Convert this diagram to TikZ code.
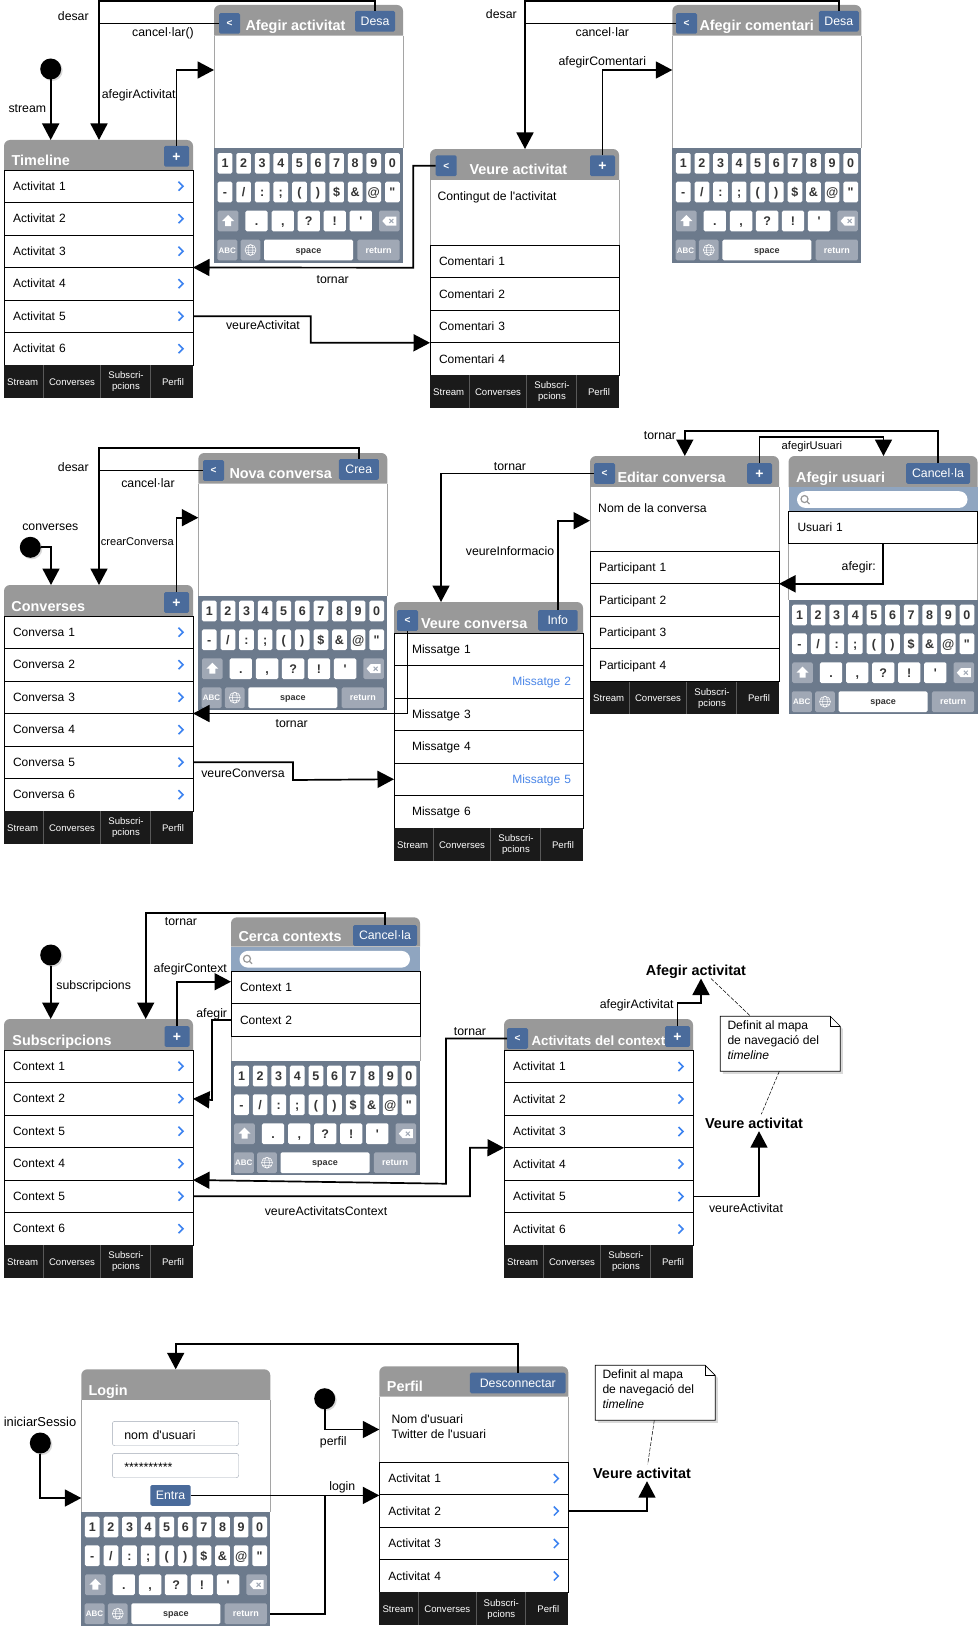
\documentclass[tikz,border=0pt]{standalone}
\usepackage{fontspec}
\setmainfont{Liberation Sans}
\usetikzlibrary{arrows.meta}
\usetikzlibrary{shadows}
\definecolor{ColHead}{RGB}{153,153,153}
\definecolor{ColBorder}{RGB}{165,165,165}
\definecolor{ColBtn}{RGB}{74,107,155}
\definecolor{ColKb}{RGB}{108,122,140}
\definecolor{ColKey}{RGB}{160,168,181}
\definecolor{ColTab}{RGB}{26,26,26}
\definecolor{ColSearch}{RGB}{143,165,192}
\definecolor{ColLink}{RGB}{59,130,240}
\definecolor{ColMsg}{RGB}{74,134,232}
\newcommand{\FontRow}{\fontsize{12pt}{13pt}\selectfont}
\newcommand{\FontTitle}{\fontsize{14.4pt}{16pt}\bfseries\selectfont}
\newcommand{\FontBtn}{\fontsize{12.3pt}{14pt}\selectfont}
\newcommand{\FontTab}{\fontsize{9.6pt}{11pt}\selectfont}
\newcommand{\MsgBlue}[1]{\makebox[171pt][r]{\textcolor{ColMsg}{#1}\hspace*{3pt}}}
\tikzstyle{HeadFill}=[fill=ColHead]
\tikzstyle{HeadBox}=[rectangle,anchor=north west,minimum width=189pt,inner sep=0pt,outer sep=0pt]
\tikzstyle{TitleText}=[anchor=west,inner sep=0pt,text=white,font=\FontTitle,text height=10pt,text depth=3pt]
\tikzstyle{BodyBox}=[rectangle,anchor=north west,fill=white,minimum width=189pt,inner sep=0pt,outer sep=0pt]
\tikzstyle{BodySide}=[draw=ColBorder,line width=.7pt]
\tikzstyle{RowBox}=[rectangle,anchor=north west,draw=black,line width=.8pt,fill=white,minimum height=32.5pt,
text width=171pt,inner xsep=9pt,inner ysep=0pt,outer sep=0pt,align=left,font=\FontRow,text height=9.5pt,text depth=1.5pt]
\tikzstyle{ChevronLine}=[draw=ColLink,line width=1.5pt]
\tikzstyle{TabBase}=[rectangle,anchor=north west,fill=ColTab,minimum width=189pt,minimum height=32.5pt,inner sep=0pt,outer sep=0pt]
\tikzstyle{TabRule}=[draw=black!65,line width=.6pt]
\tikzstyle{TabText}=[text=white,inner sep=0pt,align=center,font=\FontTab]
\tikzstyle{KbBase}=[rectangle,anchor=north west,fill=ColKb,minimum width=189pt,minimum height=114.4pt,inner sep=0pt,outer sep=0pt]
\tikzstyle{KeyWhite}=[rectangle,rounded corners=1.5pt,fill=white,minimum width=14.7pt,minimum height=20.6pt,inner sep=0pt,
text=black!80,font=\fontsize{12.5pt}{14pt}\bfseries\selectfont,text height=9pt,text depth=0pt]
\tikzstyle{KeyGrey}=[KeyWhite,fill=ColKey,text=white,font=\fontsize{9pt}{10pt}\bfseries\selectfont,text height=6.5pt]
\tikzstyle{BtnBlue}=[rectangle,rounded corners=1.5pt,fill=ColBtn,text=white,minimum height=20.7pt,inner sep=0pt,outer sep=0pt,
font=\FontBtn,text height=9pt,text depth=0pt]
\tikzstyle{BtnBack}=[BtnBlue,minimum width=21pt,font=\fontsize{10pt}{12pt}\bfseries\selectfont,text height=7pt]
\tikzstyle{BtnPlus}=[BtnBlue,minimum width=25pt,font=\fontsize{14pt}{16pt}\bfseries\selectfont,text height=10pt]
\tikzstyle{PlainText}=[anchor=west,inner sep=0pt,align=left,font=\fontsize{12.2pt}{15pt}\selectfont]
\tikzstyle{FlowLabel}=[inner sep=0pt,yshift=-1.7pt,font=\fontsize{12.3pt}{13pt}\selectfont,text height=8.5pt,text depth=2.5pt]
\tikzstyle{BoldLabel}=[inner xsep=0pt,inner ysep=2pt,outer sep=0pt,font=\FontTitle,text height=12pt,text depth=1pt]
\tikzstyle{StartDot}=[circle,fill=black,minimum size=21pt,inner sep=0pt,outer sep=0pt,
drop shadow={shadow xshift=1.5pt,shadow yshift=-1.5pt,opacity=.3}]
\tikzstyle{FlowLine}=[draw=black,line width=1.7pt]
\tikzstyle{Flow}=[FlowLine,-{Triangle[length=16.5pt,width=17pt]}]
\tikzstyle{NoteLine}=[draw=black,fill=white,line width=.7pt]
\tikzstyle{NoteBox}=[rectangle,anchor=north west,minimum width=120pt,minimum height=55pt,inner sep=0pt,outer sep=0pt]
\tikzstyle{NoteText}=[anchor=north west,inner sep=0pt,align=left,font=\fontsize{12.1pt}{15.1pt}\selectfont]
\tikzstyle{NoteLink}=[draw=black,line width=.5pt,dash pattern=on 4pt off 1.5pt]
\tikzstyle{FieldBox}=[rectangle,rounded corners=2.5pt,draw=ColKey,fill=white,anchor=north west,minimum height=24.4pt,
text width=102.4pt,inner xsep=12pt,inner ysep=0pt,outer sep=0pt,align=left,text height=12.5pt,text depth=1pt,font=\fontsize{12.4pt}{14pt}\selectfont]
% one screen is put together from these parts
\newcommand{\ScreenHead}[6]{%
  \fill[HeadFill]({#2},{#4})[rounded corners=6pt]--({#2},{#3})--({#2+189},{#3})[sharp corners]--({#2+189},{#4})--cycle;
  \node[HeadBox,minimum height={#4-#3}](#1Head)at({#2},{#3}){};
  \node[TitleText](#1Title)at({#5},{#4-8.5}){#6};
}
\newcommand{\ScreenBody}[4]{%
  \node[BodyBox,minimum height={#4}](#1Body)at({#2},{#3}){};
  \draw[BodySide](#1Body.north west)--(#1Body.south west)(#1Body.north east)--(#1Body.south east);
}
\newcommand{\ListRows}[4]{%
  \foreach \txt [count=\i] in {#4}{\node[RowBox](#1R\i)at({#2},{#3+(\i-1)*32.5}){\txt};}
}
\newcommand{\ChevronRows}[4]{%
  \ListRows{#1}{#2}{#3}{#4}
  \foreach \txt [count=\i] in {#4}{\draw[ChevronLine]({#2+174.5},{#3+(\i-1)*32.5+11.7})--++(4.5,4.5)--++(-4.5,4.5);}
}
\newcommand{\TabBar}[3]{%
  \node[TabBase](#1Tab)at({#2},{#3}){};
  \foreach \xd in {39.3,96.7,146.3}{\draw[TabRule]({#2+\xd},{#3})--({#2+\xd},{#3+32.5});}
  \foreach \xc/\txt [count=\i] in {18.7/Stream,68/Converses,122/{Subscri-\\pcions},169/Perfil}{%
    \node[TabText](#1Tb\i)at({#2+\xc},{#3+17}){\txt};}
}
\newcommand{\Keyboard}[3]{%
  \node[KbBase](#1Kb)at({#2},{#3}){};
  \foreach \c [count=\i] in {1,2,3,4,5,6,7,8,9,0}{\node[KeyWhite](#1Ka\i)at({#2+11+18.6*(\i-1)},{#3+15}){\c};}
  \foreach \c [count=\i] in {-,/,:,;,{(},{)},\$,\&,@,\textquotedbl}{\node[KeyWhite](#1Kb\i)at({#2+11+18.6*(\i-1)},{#3+43.7}){\c};}
  \foreach \xk/\c [count=\i] in {42.5/.,68.8/{,},94.8/?,120.7/!,146.8/\textquotesingle}{%
    \node[KeyWhite,minimum width=22.3pt](#1Kc\i)at({#2+\xk},{#3+72.7}){\c};}
  \node[KeyGrey,minimum width=20.6pt](#1Shift)at({#2+14},{#3+72.7}){};
  \node[KeyGrey,minimum width=20.6pt](#1Del)at({#2+175.3},{#3+72.7}){};
  \node[KeyGrey,minimum width=20pt,font=\fontsize{8pt}{9pt}\bfseries\selectfont](#1Abc)at({#2+13.3},{#3+101.7}){ABC};
  \node[KeyGrey,minimum width=19.7pt](#1Globe)at({#2+36.5},{#3+101.7}){};
  \node[KeyWhite,minimum width=89pt,font=\fontsize{9pt}{10pt}\bfseries\selectfont,text height=6.5pt](#1Space)at({#2+94.5},{#3+101.7}){space};
  \node[KeyGrey,minimum width=42.3pt](#1Ret)at({#2+164.5},{#3+101.7}){return};
  \fill[white,shift={(#1Shift.center)}](0,-6)--(6,0)--(3,0)--(3,5)--(-3,5)--(-3,0)--(-6,0)--cycle;
  \fill[white,shift={(#1Del.center)}](-7,0)--(-3,-4.5)--(7,-4.5)--(7,4.5)--(-3,4.5)--cycle;
  \draw[ColKey,line width=1pt,shift={(#1Del.center)}](0,-2)--(4,2)(4,-2)--(0,2);
  \draw[white,line width=.5pt,shift={(#1Globe.center)}](0,0)circle(5.5)(0,0)ellipse(2.5 and 5.5)(-5.5,0)--(5.5,0)(-4.8,-2.7)--(4.8,-2.7)(-4.8,2.7)--(4.8,2.7);
}
\newcommand{\SearchBar}[4]{%
  \node[HeadBox,fill=ColSearch,minimum height={#4}](#1Bar)at({#2},{#3}){};
  \node[HeadBox,fill=white,rounded corners=8.3pt,minimum width=170.5pt,minimum height=16.7pt](#1Pill)at({#2+8.5},{#3+4.2}){};
  \draw[draw=ColHead,line width=1.2pt]([xshift=7.5pt,yshift=.5pt]#1Pill.west)circle(3.5)++(2.5,2.5)--++(2.5,2.5);
}
\newcommand{\NoteShape}[3]{%
  \filldraw[NoteLine,drop shadow={shadow xshift=2.5pt,shadow yshift=-2.5pt,opacity=.3}]
    ({#2},{#3})--({#2+110},{#3})--({#2+120},{#3+10})--({#2+120},{#3+55})--({#2},{#3+55})--cycle;
  \draw[NoteLine,fill=none]({#2+110},{#3})--({#2+110},{#3+10})--({#2+120},{#3+10});
  \node[NoteBox](#1)at({#2},{#3}){};
  \node[NoteText](#1Text)at({#2+7},{#3+4.5}){Definit al mapa\\de navegació del\\\textit{timeline}};
}
\begin{document}
\begin{tikzpicture}[x=1pt,y=-1pt]
    \useasboundingbox(0,0)rectangle(978,1627);
    % Timeline
    \ScreenHead{tl}{4}{140}{170}{11.5}{Timeline}
    \ChevronRows{tl}{4}{170}{Activitat 1,Activitat 2,Activitat 3,Activitat 4,Activitat 5,Activitat 6}
    \TabBar{tl}{4}{365}
    \node[BtnPlus](tlPlus)at(176.5,156.3){+};
    \node[StartDot](tlDot)at(50.7,69){};
    % Afegir activitat
    \ScreenHead{aa}{214}{5}{35.7}{245.3}{Afegir activitat}
    \ScreenBody{aa}{214}{35.7}{112.6}
    \Keyboard{aa}{214}{148.3}
    \node[BtnBack](aaBack)at(229.5,23.4){<};
    \node[BtnBlue,minimum width=40pt](aaDesa)at(375,21.3){Desa};
    % Veure activitat
    \ScreenHead{va}{430}{149}{180}{469.3}{Veure activitat}
    \ScreenBody{va}{430}{180}{65.3}
    \node[PlainText](vaText)at(437.3,197.2){Contingut de l\textquotesingle activitat};
    \ListRows{va}{430}{245.3}{Comentari 1,Comentari 2,Comentari 3,Comentari 4}
    \TabBar{va}{430}{375}
    \node[BtnBack](vaBack)at(446.2,165.7){<};
    \node[BtnPlus](vaPlus)at(602.5,165.7){+};
    % Afegir comentari
    \ScreenHead{ac}{672.3}{5}{35.7}{699.3}{Afegir comentari}
    \ScreenBody{ac}{672.3}{35.7}{112.6}
    \Keyboard{ac}{672.3}{148.3}
    \node[BtnBack](acBack)at(686.5,23.4){<};
    \node[BtnBlue,minimum width=40pt](acDesa)at(838.8,21.3){Desa};
    % Converses
    \ScreenHead{co}{4}{585}{616}{11.3}{Converses}
    \ChevronRows{co}{4}{616}{Conversa 1,Conversa 2,Conversa 3,Conversa 4,Conversa 5,Conversa 6}
    \TabBar{co}{4}{811}
    \node[BtnPlus](coPlus)at(176.5,602.4){+};
    \node[StartDot](coDot)at(30.3,547.3){};
    % Nova conversa
    \ScreenHead{nc}{198.3}{453}{483.7}{229.3}{Nova conversa}
    \ScreenBody{nc}{198.3}{483.7}{112.3}
    \Keyboard{nc}{198.3}{596}
    \node[BtnBack](ncBack)at(213.5,470.4){<};
    \node[BtnBlue,minimum width=40pt](ncCrea)at(358.8,469.4){Crea};
    % Veure conversa
    \ScreenHead{vc}{394}{602}{633}{420.8}{Veure conversa}
    \ListRows{vc}{394}{633}{\hspace*{9pt}Missatge 1,\MsgBlue{Missatge 2},\hspace*{9pt}Missatge 3,\hspace*{9pt}Missatge 4,\MsgBlue{Missatge 5},\hspace*{9pt}Missatge 6}
    \TabBar{vc}{394}{828}
    \node[BtnBack](vcBack)at(407.5,620.4){<};
    \node[BtnBlue,minimum width=39.5pt](vcInfo)at(557.8,620.4){Info};
    % Editar conversa
    \ScreenHead{ec}{590}{456}{487}{617.3}{Editar conversa}
    \ScreenBody{ec}{590}{487}{64.3}
    \node[PlainText](ecText)at(598,507.7){Nom de la conversa};
    \ListRows{ec}{590}{551.3}{Participant 1,Participant 2,Participant 3,Participant 4}
    \TabBar{ec}{590}{681.5}
    \node[BtnBack](ecBack)at(604.5,473.4){<};
    \node[BtnPlus](ecPlus)at(759.5,473.4){+};
    % Afegir usuari
    \ScreenHead{au}{788.5}{456}{487}{796}{Afegir usuari}
    \SearchBar{au}{788.5}{487}{24.3}
    \ScreenBody{au}{788.5}{544}{56}
    \ListRows{au}{788.5}{511.3}{Usuari 1}
    \Keyboard{au}{788.5}{600}
    \node[BtnBlue,minimum width=64pt](auCancel)at(938,473.4){Cancel·la};
    % Subscripcions
    \ScreenHead{su}{4}{1019}{1050}{12.3}{Subscripcions}
    \ChevronRows{su}{4}{1050}{Context 1,Context 2,Context 5,Context 4,Context 5,Context 6}
    \TabBar{su}{4}{1245}
    \node[BtnPlus](suPlus)at(177,1036.4){+};
    \node[StartDot](suDot)at(50.7,955){};
    % Cerca contexts
    \ScreenHead{cc}{231}{917.3}{946.7}{238.3}{Cerca contexts}
    \SearchBar{cc}{231}{946.7}{24.6}
    \ScreenBody{cc}{231}{1036.3}{25}
    \ListRows{cc}{231}{971.3}{Context 1,Context 2}
    \Keyboard{cc}{230.5}{1061}
    \node[BtnBlue,minimum width=64pt](ccCancel)at(385,935.4){Cancel·la};
    % Activitats del context
    \ScreenHead{ca}{504}{1019}{1050.3}{531.3}{\fontsize{13.3pt}{16pt}\selectfont Activitats del context}
    \ChevronRows{ca}{504}{1050.3}{Activitat 1,Activitat 2,Activitat 3,Activitat 4,Activitat 5,Activitat 6}
    \TabBar{ca}{504}{1245}
    \node[BtnBack](caBack)at(517.5,1038.4){<};
    \node[BtnPlus](caPlus)at(677.5,1036.4){+};
    \node[BoldLabel](naAfegir)at(696,970){Afegir activitat};
    \node[BoldLabel](naVeure)at(754,1122.7){Veure activitat};
    \NoteShape{ntContext}{720.3}{1016.3}
    % Login
    \ScreenHead{lg}{81.3}{1369.3}{1400}{88.3}{Login}
    \ScreenBody{lg}{81.3}{1400}{112}
    \node[FieldBox](lgUser)at(112.3,1421.3){nom d\textquotesingle usuari};
    \node[FieldBox](lgPass)at(112.3,1453.3){**********};
    \Keyboard{lg}{81.3}{1512}
    \node[BtnBlue,minimum width=40.4pt](lgEntra)at(170.5,1495.4){Entra};
    \node[StartDot](lgDot)at(40.3,1443){};
    % Perfil
    \ScreenHead{pf}{379.3}{1366.3}{1396.7}{386.7}{Perfil}
    \ScreenBody{pf}{379.3}{1396.7}{65.6}
    \node[PlainText](pfText)at(391.3,1426.2){Nom d\textquotesingle usuari\\Twitter de l\textquotesingle usuari};
    \ChevronRows{pf}{379.3}{1462.3}{Activitat 1,Activitat 2,Activitat 3,Activitat 4}
    \TabBar{pf}{379.3}{1592}
    \node[BtnBlue,minimum width=95.7pt](pfDisc)at(517.8,1383){Desconnectar};
    \node[StartDot](pfDot)at(324.7,1398.7){};
    \node[BoldLabel](naPerfil)at(642,1472.7){Veure activitat};
    \NoteShape{ntPerfil}{595.3}{1365.3}
    % connectors of the first row
    \draw[Flow](tlDot.south)--(tlDot.south|-tlHead.north);
    \draw[Flow](aaDesa.north)|-(99,1)--(99,0|-tlHead.north);
    \draw[FlowLine](aaBack.west)--(99,0|-aaBack.west);
    \draw[Flow](tlPlus.north)|-(aaBody.west|-0,70);
    \draw[Flow](vaBack.west)-|(413.3,267.7)--(tlR3.south east);
    \draw[Flow](tlR5.east)-|(310.7,342.7)--(vaR3.south west);
    \draw[Flow](acDesa.north)|-(525,1)--(525,0|-vaHead.north);
    \draw[FlowLine](acBack.west)--(525,0|-acBack.west);
    \draw[Flow](vaPlus.north)|-(acBody.west|-0,70);
    % connectors of the second row
    \draw[Flow](coDot.east)-|(51,0|-coHead.north);
    \draw[Flow](ncCrea.north)|-(99,448.3)--(99,0|-coHead.north);
    \draw[FlowLine](ncBack.west)--(99,0|-ncBack.west);
    \draw[Flow](coPlus.north)|-(ncBody.west|-0,517.7);
    \draw[Flow](vcBack.south)|-(coR3.south east);
    \draw[Flow](coR5.east)-|(293,780)--(vcR5.west);
    \draw[Flow](ecBack.west)-|(441,0|-vcHead.north);
    \draw[Flow](vcInfo.north)|-(ecBody.west|-0,520.7);
    \draw[Flow](auCancel.north)|-(684.8,431)--(684.8,0|-ecHead.north);
    \draw[Flow](ecPlus.north)|-(883.5,437)--(883.5,0|-auHead.north);
    \draw[Flow](auR1.south)|-(ecR1.south east);
    % connectors of the third row
    \draw[Flow](suDot.south)--(suDot.south|-suHead.north);
    \draw[Flow](ccCancel.north)|-(145.7,913.3)--(145.7,0|-suHead.north);
    \draw[Flow](suPlus.north)|-(ccR1.west|-0,981.7);
    \draw[Flow](ccR2.west)-|(212,1100)--(suR2.east);
    \draw[Flow](caBack.west)-|(446,1183.7)--(suR5.north east);
    \draw[Flow](suR5.east)-|(470,1147.7)--(caR3.south west);
    \draw[Flow](caPlus.north)|-(701,1003)--(701,0|-naAfegir.south);
    \draw[Flow](caR5.east)-|([xshift=5pt]naVeure.south);
    \draw[NoteLink]([xshift=15pt]naAfegir.south)--([xshift=-29.6pt]ntContext.north);
    \draw[NoteLink]([xshift=-1pt]ntContext.south)--([xshift=7.3pt]naVeure.north);
    % connectors of the last row
    \draw[Flow](lgDot.south)|-(lgBody.west|-0,1498);
    \draw[Flow](pfDot.south)|-(pfBody.west);
    \draw[Flow](lgEntra.east)--(pfBody.west|-lgEntra.east);
    \draw[FlowLine](lgKb.east|-lgRet.east)-|(324.7,1495.4);
    \draw[Flow](pfDisc.north)|-(175.7,1344)--(175.7,0|-lgHead.north);
    \draw[Flow](pfR2.east)-|([xshift=5pt]naPerfil.south);
    \draw[NoteLink]([xshift=-1pt]ntPerfil.south)--([xshift=5.7pt]naPerfil.north);
    % labels of the connectors
    \node[FlowLabel](lbA)at(73.3,15.7){desar};
    \node[FlowLabel](lbB)at(163,31.7){cancel·lar()};
    \node[FlowLabel](lbC)at(27.3,107.7){stream};
    \node[FlowLabel](lbD)at(138.7,93.7){afegirActivitat};
    \node[FlowLabel](lbE)at(332.7,278.7){tornar};
    \node[FlowLabel](lbF)at(263,324.7){veureActivitat};
    \node[FlowLabel](lbG)at(501.3,13.7){desar};
    \node[FlowLabel](lbH)at(602.3,31.7){cancel·lar};
    \node[FlowLabel](lbI)at(602.3,60.7){afegirComentari};
    \node[FlowLabel](lbJ)at(73.3,466.7){desar};
    \node[FlowLabel](lbK)at(148,482.7){cancel·lar};
    \node[FlowLabel](lbL)at(50.3,525.7){converses};
    \node[FlowLabel,font=\fontsize{11.1pt}{12pt}\selectfont](lbM)at(137.3,540.3){crearConversa};
    \node[FlowLabel](lbN)at(291.7,722.7){tornar};
    \node[FlowLabel](lbO)at(243,772.7){veureConversa};
    \node[FlowLabel](lbP)at(510,465.7){tornar};
    \node[FlowLabel](lbQ)at(510,550.7){veureInformacio};
    \node[FlowLabel](lbR)at(660,434.7){tornar};
    \node[FlowLabel,font=\fontsize{11.2pt}{12pt}\selectfont](lbS)at(811.9,445){afegirUsuari};
    \node[FlowLabel](lbT)at(858.8,565.7){afegir:};
    \node[FlowLabel](lbU)at(93.7,985){subscripcions};
    \node[FlowLabel](lbV)at(181,921){tornar};
    \node[FlowLabel](lbW)at(190.3,968){afegirContext};
    \node[FlowLabel](lbX)at(211.7,1012.7){afegir};
    \node[FlowLabel](lbY)at(470,1030.7){tornar};
    \node[FlowLabel](lbZ)at(326,1210.7){veureActivitatsContext};
    \node[FlowLabel](lcA)at(636.7,1003.7){afegirActivitat};
    \node[FlowLabel](lcB)at(746,1207.7){veureActivitat};
    \node[FlowLabel,font=\fontsize{12.9pt}{13pt}\selectfont](lcC)at(40,1422){iniciarSessio};
    \node[FlowLabel](lcD)at(333.3,1440.7){perfil};
    \node[FlowLabel](lcE)at(342.3,1486){login};
\end{tikzpicture}
\end{document}
